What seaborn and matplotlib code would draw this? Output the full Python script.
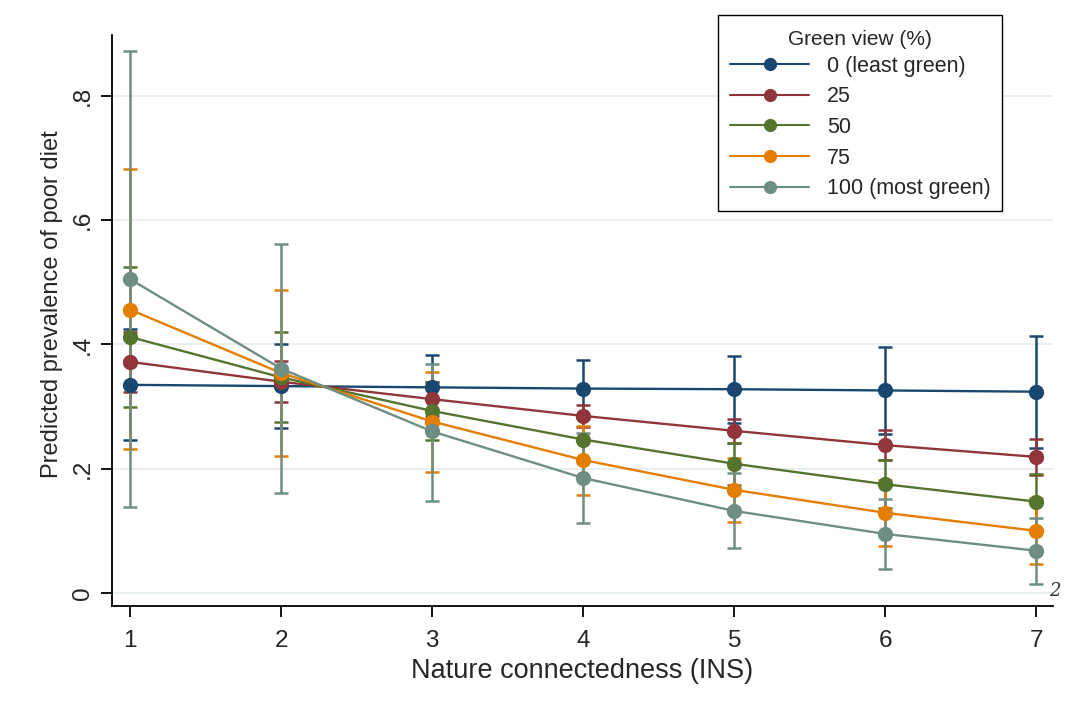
import pandas as pd
import numpy as np
import matplotlib
matplotlib.use("Agg")
import matplotlib.pyplot as plt
from matplotlib.lines import Line2D
import seaborn as sns

# valori
ins = [1, 2, 3, 4, 5, 6, 7]
livelli = ["0 (least green)", "25", "50", "75", "100 (most green)"]

pred_0 = [0.335, 0.333, 0.331, 0.329, 0.328, 0.326, 0.324]
lo_0 = [0.246, 0.266, 0.279, 0.283, 0.274, 0.256, 0.233]
hi_0 = [0.425, 0.401, 0.383, 0.375, 0.382, 0.396, 0.414]

pred_25 = [0.372, 0.340, 0.312, 0.285, 0.261, 0.238, 0.219]
lo_25 = [0.324, 0.307, 0.285, 0.267, 0.242, 0.214, 0.190]
hi_25 = [0.420, 0.373, 0.339, 0.303, 0.280, 0.262, 0.248]

pred_50 = [0.412, 0.347, 0.293, 0.247, 0.208, 0.175, 0.147]
lo_50 = [0.300, 0.275, 0.246, 0.212, 0.174, 0.136, 0.103]
hi_50 = [0.524, 0.420, 0.340, 0.282, 0.242, 0.214, 0.191]

pred_75 = [0.456, 0.354, 0.276, 0.214, 0.166, 0.129, 0.100]
lo_75 = [0.231, 0.220, 0.195, 0.158, 0.115, 0.076, 0.047]
hi_75 = [0.682, 0.488, 0.355, 0.268, 0.218, 0.182, 0.153]

pred_100 = [0.505, 0.361, 0.260, 0.185, 0.132, 0.095, 0.068]
lo_100 = [0.139, 0.161, 0.148, 0.113, 0.072, 0.038, 0.015]
hi_100 = [0.872, 0.562, 0.369, 0.257, 0.193, 0.151, 0.120]

y_ticks = [0, 0.2, 0.4, 0.6, 0.8]
y_ticklabels = ["0", ".2", ".4", ".6", ".8"]

colori = ["#1a476f", "#90353b", "#55752f", "#e37e00", "#6e8e84"]

pred = [pred_0, pred_25, pred_50, pred_75, pred_100]
lo = [lo_0, lo_25, lo_50, lo_75, lo_100]
hi = [hi_0, hi_25, hi_50, hi_75, hi_100]

# tabella lunga per seaborn
righe = []
for liv, p, l, h in zip(livelli, pred, lo, hi):
    for x, pp, ll, hh in zip(ins, p, l, h):
        righe.append({"ins": x, "prev": pp, "lo": ll, "hi": hh, "green": liv})
df = pd.DataFrame(righe)

sns.set_style("white")
plt.rcParams["font.family"] = ["Liberation Sans", "DejaVu Sans"]

fig = plt.figure(figsize=(10.92, 7.16), dpi=100)
ax = fig.add_axes([0.1026, 0.1536, 0.8617, 0.7974])

# intervalli di confidenza
for liv, c in zip(livelli, colori):
    d = df[df["green"] == liv]
    ax.errorbar(d["ins"], d["prev"], yerr=[d["prev"] - d["lo"], d["hi"] - d["prev"]],
                fmt="none", ecolor=c, elinewidth=1.8, capsize=5, capthick=1.8, zorder=2)

sns.lineplot(data=df, x="ins", y="prev", hue="green", hue_order=livelli, palette=colori,
             marker="o", markersize=11, markeredgewidth=0, linewidth=1.7,
             legend=False, ax=ax, zorder=3)

ax.set_xlim(0.88, 7.11)
ax.set_ylim(-0.021, 0.898)
ax.set_xticks(ins)
ax.set_xticklabels([str(i) for i in ins], fontsize=17.5)
ax.set_yticks(y_ticks)
ax.set_yticklabels(y_ticklabels, fontsize=17.5, rotation=90, va="center")
ax.tick_params(axis="both", direction="out", length=8, width=1.3, color="black",
               left=True, bottom=True)
ax.tick_params(axis="y", pad=5)
ax.tick_params(axis="x", pad=9)

ax.grid(axis="y", color="#e8eff1", linewidth=1.5)
ax.grid(axis="x", visible=False)
ax.set_axisbelow(True)

for lato in ["top", "right"]:
    ax.spines[lato].set_visible(False)
for lato in ["left", "bottom"]:
    ax.spines[lato].set_color("black")
    ax.spines[lato].set_linewidth(1.3)

ax.set_xlabel("Nature connectedness (INS)", fontsize=19.5)
ax.xaxis.set_label_coords(0.5, -0.091)
ax.set_ylabel("Predicted prevalence of poor diet", fontsize=17)
ax.yaxis.set_label_coords(-0.052, 0.529)

# legenda
maniglie = [Line2D([0], [0], color=c, linewidth=1.5, marker="o", markersize=9.5,
                   markeredgewidth=0) for c in colori]
leg = fig.legend(maniglie, livelli, title="Green view (%)", loc="upper left",
                 bbox_to_anchor=(0.6575, 0.979), borderaxespad=0, fontsize=15.5,
                 title_fontsize=15, frameon=True, fancybox=False, framealpha=1,
                 edgecolor="black", handlelength=3.7, labelspacing=0.45,
                 borderpad=0.55, handletextpad=0.8)
leg.get_frame().set_linewidth(1.0)
leg.get_title().set_position((0, -3))

fig.text(0.9605, 0.1746, "2", style="italic", fontsize=13, color="#333333",
         va="center", family="DejaVu Serif")

fig.savefig("out.png", dpi=100)
